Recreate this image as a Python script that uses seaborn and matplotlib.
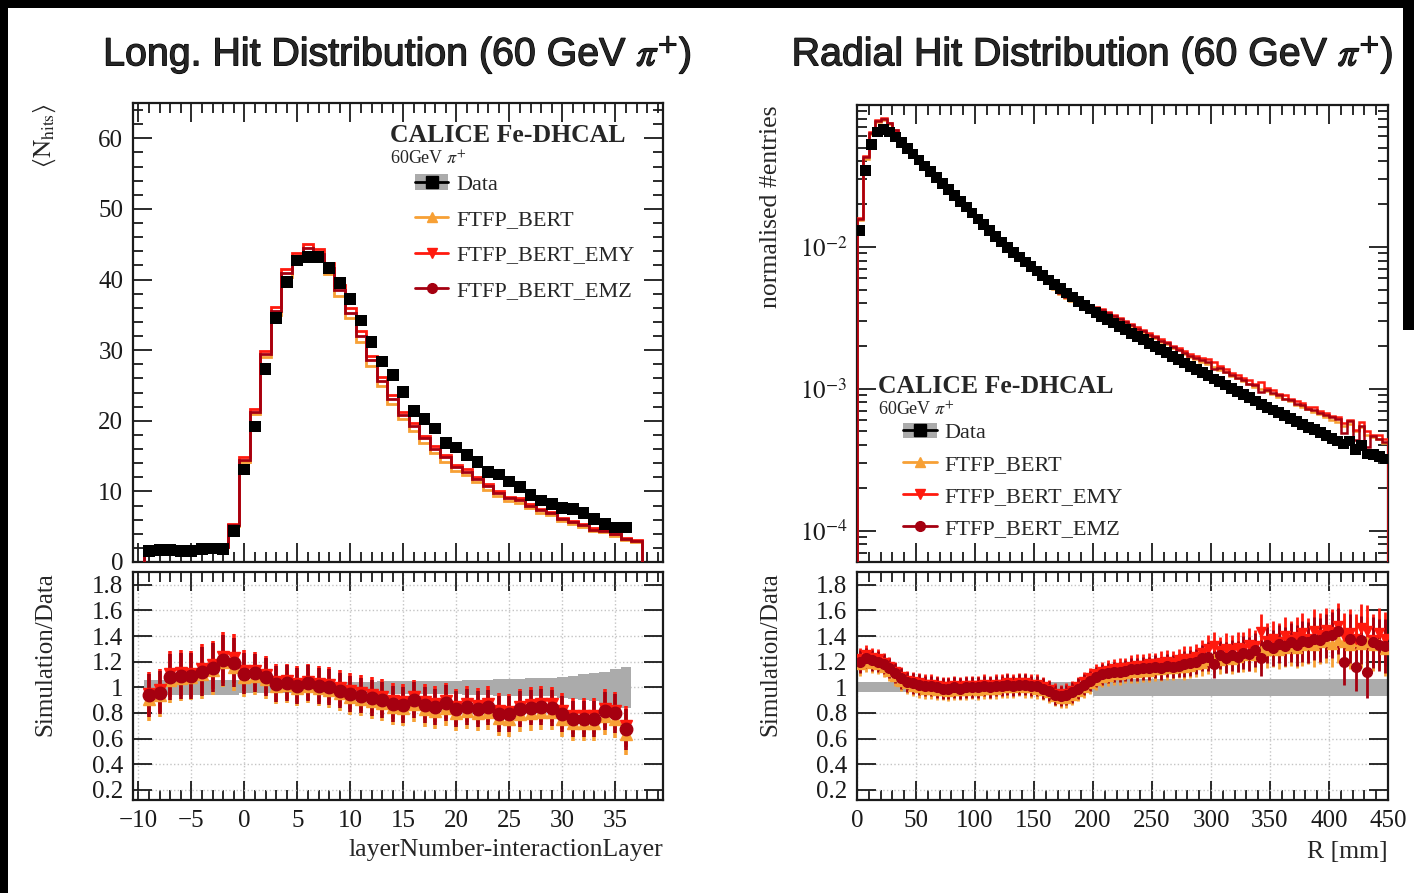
import numpy as np
import matplotlib
matplotlib.use("Agg")
import matplotlib.pyplot as plt
import matplotlib.patheffects as pe
import seaborn as sns
from matplotlib.patches import Rectangle, Patch
from matplotlib.lines import Line2D
from matplotlib.ticker import MultipleLocator, FixedLocator, LogLocator, NullFormatter, FuncFormatter

# ---------------------------------------------------------------- data
# longitudinal profile: mean number of hits per layer (relative to interaction layer)
layers = list(range(-9, 37))
hits_data = [1.6, 1.7, 1.7, 1.6, 1.6, 1.8, 1.9, 1.8, 4.4,
             13.1, 19.2, 27.3, 34.6, 39.7, 42.7, 43.2, 43.2, 41.6, 39.5,
             37.2, 34.2, 31.1, 28.4, 26.5, 24.1, 21.4, 20.3, 18.9, 16.9,
             16.2, 15.1, 14.2, 12.7, 12.4, 11.4, 10.6, 9.5, 8.7, 8.2,
             7.7, 7.5, 6.9, 6.1, 5.4, 4.9, 4.9]
# simulated profiles (one extra layer at the end, 37)
hits_bert = [1.45, 1.60, 1.80, 1.72, 1.73, 1.98, 2.15, 2.16, 5.1,
             14.2, 20.9, 29.0, 35.0, 40.3, 42.6, 43.8, 42.9, 40.8, 37.7,
             34.5, 31.2, 27.8, 24.9, 22.4, 20.2, 18.6, 16.9, 15.4, 14.2,
             12.9, 12.3, 11.3, 10.2, 9.4, 8.6, 8.4, 7.6, 7.0, 6.6,
             5.8, 5.4, 4.95, 4.4, 4.2, 3.7, 3.1, 2.9]
hits_emy = [1.52, 1.66, 1.88, 1.78, 1.77, 2.06, 2.23, 2.22, 5.4,
            14.8, 21.6, 29.9, 36.1, 41.5, 43.8, 45.1, 44.3, 42.3, 39.2,
            36.0, 32.7, 29.2, 26.2, 23.6, 21.3, 19.7, 17.9, 16.4, 15.1,
            13.7, 13.1, 12.1, 11.0, 10.1, 9.2, 9.0, 8.2, 7.55, 7.1,
            6.25, 5.8, 5.35, 4.75, 4.5, 4.0, 3.4, 3.1]
hits_emz = [1.50, 1.63, 1.84, 1.74, 1.74, 2.02, 2.19, 2.18, 5.24,
            14.5, 21.3, 29.5, 35.6, 40.9, 43.1, 44.5, 43.6, 41.6, 38.5,
            35.3, 32.0, 28.6, 25.6, 23.1, 20.8, 19.3, 17.5, 16.0, 14.8,
            13.4, 12.8, 11.8, 10.7, 9.8, 9.0, 8.8, 8.0, 7.35, 6.9,
            6.1, 5.65, 5.2, 4.6, 4.4, 3.9, 3.3, 3.0]
# uncertainty of the simulation/data ratio per layer
ratio_err_long = [0.17, 0.17, 0.18, 0.18, 0.18, 0.19, 0.19, 0.20, 0.19,
                  0.16, 0.15, 0.15, 0.14, 0.14, 0.14, 0.14, 0.14, 0.14, 0.14,
                  0.14, 0.14, 0.14, 0.14, 0.14, 0.14, 0.14, 0.14, 0.14, 0.14,
                  0.14, 0.14, 0.14, 0.14, 0.14, 0.14, 0.14, 0.14, 0.14, 0.14,
                  0.14, 0.14, 0.14, 0.14, 0.15, 0.15, 0.16]
# relative data uncertainty (grey band)
data_relerr_long = [0.06, 0.06, 0.06, 0.06, 0.06, 0.06, 0.06, 0.06, 0.06,
                    0.045, 0.045, 0.045, 0.045, 0.045, 0.045, 0.045, 0.045, 0.045, 0.045,
                    0.045, 0.045, 0.045, 0.05, 0.05, 0.05, 0.05, 0.05, 0.05, 0.05,
                    0.05, 0.06, 0.06, 0.06, 0.065, 0.065, 0.065, 0.07, 0.07, 0.07,
                    0.08, 0.09, 0.10, 0.11, 0.12, 0.14, 0.16]

# radial profile: normalised entries in 5 mm bins of R
radius_edges_mm = list(range(0, 455, 5))
radial_data = [0.0130, 0.0347, 0.0525, 0.0646, 0.0676, 0.0646, 0.0596, 0.0543, 0.0495, 0.0452,
               0.0410, 0.0372, 0.0339, 0.0308, 0.0280, 0.0254, 0.0231, 0.0210, 0.0191, 0.0173,
               0.0157, 0.0143, 0.0130, 0.0118, 0.0108, 0.00993, 0.00916, 0.00847, 0.00783, 0.00726,
               0.00675, 0.00627, 0.00583, 0.00543, 0.00507, 0.00473, 0.00443, 0.00414, 0.00388, 0.00365,
               0.00344, 0.00324, 0.00307, 0.00290, 0.00275, 0.00260, 0.00246, 0.00233, 0.00221, 0.00209,
               0.00199, 0.00188, 0.00179, 0.00169, 0.00161, 0.00152, 0.00144, 0.00137, 0.00130, 0.00124,
               0.00117, 0.00112, 0.00106, 0.00100, 0.000955, 0.000908, 0.000863, 0.000820, 0.000776, 0.000741,
               0.000708, 0.000676, 0.000646, 0.000617, 0.000586, 0.000560, 0.000535, 0.000513, 0.000490, 0.000468,
               0.000447, 0.000427, 0.000407, 0.000427, 0.000372, 0.000398, 0.000347, 0.000343, 0.000331, 0.000320]
radial_ratio_bert = [1.18, 1.20, 1.19, 1.18, 1.16, 1.13, 1.09, 1.05, 1.03, 1.01,
                     1.00, 0.99, 0.99, 0.98, 0.98, 0.97, 0.98, 0.98, 0.98, 0.99,
                     0.98, 0.99, 0.99, 0.99, 1.00, 1.00, 1.00, 1.01, 1.00, 1.00,
                     0.99, 0.98, 0.96, 0.93, 0.92, 0.92, 0.94, 0.97, 1.00, 1.03,
                     1.06, 1.08, 1.09, 1.10, 1.10, 1.11, 1.12, 1.12, 1.13, 1.13,
                     1.14, 1.14, 1.15, 1.15, 1.16, 1.16, 1.17, 1.18, 1.19, 1.21,
                     1.22, 1.21, 1.23, 1.22, 1.24, 1.25, 1.26, 1.25, 1.28, 1.29,
                     1.30, 1.29, 1.31, 1.32, 1.31, 1.33, 1.34, 1.33, 1.35, 1.36,
                     1.34, 1.37, 1.35, 1.33, 1.36, 1.34, 1.35, 1.33, 1.34, 1.30]
radial_ratio_emy = [1.22, 1.25, 1.23, 1.22, 1.19, 1.16, 1.12, 1.08, 1.05, 1.04,
                    1.03, 1.02, 1.02, 1.01, 1.00, 1.00, 1.01, 1.00, 1.01, 1.01,
                    1.01, 1.02, 1.01, 1.02, 1.02, 1.03, 1.02, 1.03, 1.03, 1.02,
                    1.02, 1.00, 0.98, 0.95, 0.94, 0.95, 0.97, 1.00, 1.04, 1.07,
                    1.10, 1.12, 1.13, 1.14, 1.15, 1.15, 1.16, 1.17, 1.17, 1.18,
                    1.18, 1.19, 1.20, 1.19, 1.21, 1.22, 1.22, 1.24, 1.27, 1.30,
                    1.32, 1.28, 1.30, 1.29, 1.31, 1.30, 1.33, 1.32, 1.43, 1.36,
                    1.38, 1.35, 1.40, 1.37, 1.39, 1.42, 1.38, 1.44, 1.41, 1.45,
                    1.43, 1.48, 1.40, 1.42, 1.38, 1.46, 1.44, 1.37, 1.42, 1.38]
radial_ratio_emz = [1.20, 1.23, 1.21, 1.20, 1.18, 1.15, 1.11, 1.07, 1.04, 1.03,
                    1.02, 1.01, 1.01, 1.00, 0.99, 0.99, 1.00, 0.99, 1.00, 1.00,
                    1.00, 1.01, 1.00, 1.01, 1.01, 1.02, 1.01, 1.02, 1.02, 1.01,
                    1.01, 0.99, 0.97, 0.94, 0.93, 0.94, 0.96, 0.99, 1.02, 1.05,
                    1.08, 1.10, 1.11, 1.12, 1.12, 1.13, 1.14, 1.14, 1.15, 1.15,
                    1.16, 1.15, 1.17, 1.16, 1.17, 1.18, 1.19, 1.20, 1.23, 1.24,
                    1.18, 1.25, 1.23, 1.25, 1.24, 1.27, 1.26, 1.29, 1.23, 1.33,
                    1.31, 1.34, 1.32, 1.35, 1.33, 1.36, 1.35, 1.38, 1.37, 1.40,
                    1.41, 1.44, 1.20, 1.38, 1.16, 1.37, 1.12, 1.35, 1.33, 1.32]
radial_ratio_err = [0.09, 0.08, 0.08, 0.08, 0.08, 0.08, 0.08, 0.08, 0.08, 0.08,
                    0.08, 0.08, 0.08, 0.08, 0.08, 0.08, 0.08, 0.08, 0.08, 0.08,
                    0.08, 0.08, 0.08, 0.08, 0.08, 0.08, 0.08, 0.08, 0.08, 0.08,
                    0.08, 0.08, 0.08, 0.08, 0.08, 0.08, 0.08, 0.08, 0.08, 0.08,
                    0.08, 0.08, 0.08, 0.08, 0.08, 0.08, 0.09, 0.09, 0.09, 0.09,
                    0.09, 0.09, 0.09, 0.09, 0.09, 0.10, 0.10, 0.10, 0.10, 0.11,
                    0.11, 0.11, 0.12, 0.12, 0.12, 0.13, 0.13, 0.13, 0.14, 0.14,
                    0.14, 0.15, 0.15, 0.15, 0.16, 0.16, 0.16, 0.17, 0.17, 0.17,
                    0.18, 0.18, 0.18, 0.19, 0.19, 0.19, 0.20, 0.20, 0.20, 0.21]
radial_data_relerr = [0.04, 0.04, 0.04, 0.04, 0.04, 0.04, 0.04, 0.04, 0.04, 0.04,
                      0.04, 0.04, 0.04, 0.04, 0.04, 0.04, 0.04, 0.04, 0.04, 0.04,
                      0.04, 0.04, 0.04, 0.04, 0.04, 0.04, 0.04, 0.04, 0.04, 0.04,
                      0.04, 0.04, 0.04, 0.04, 0.04, 0.04, 0.04, 0.04, 0.04, 0.04,
                      0.065, 0.065, 0.065, 0.065, 0.065, 0.065, 0.065, 0.065, 0.065, 0.065,
                      0.065, 0.065, 0.065, 0.065, 0.065, 0.065, 0.065, 0.065, 0.065, 0.065,
                      0.065, 0.065, 0.065, 0.065, 0.065, 0.065, 0.065, 0.065, 0.065, 0.065,
                      0.065, 0.065, 0.065, 0.065, 0.065, 0.065, 0.065, 0.065, 0.065, 0.065,
                      0.065, 0.065, 0.065, 0.065, 0.065, 0.065, 0.065, 0.065, 0.065, 0.065]

model_names = ["FTFP_BERT", "FTFP_BERT_EMY", "FTFP_BERT_EMZ"]
model_colors = ["#f7a035", "#ff1a0e", "#a50010"]
model_markers = ["^", "v", "o"]
band_color = "#ababab"

# ---------------------------------------------------------------- style
sns.set_theme(style="white")
plt.rcParams.update({
    "font.family": ["Liberation Serif", "DejaVu Serif"],
    "mathtext.fontset": "stix",
    "axes.edgecolor": "#1a1a1a",
    "axes.linewidth": 1.6,
    "xtick.color": "#1a1a1a",
    "ytick.color": "#1a1a1a",
    "axes.unicode_minus": True,
})

W, H = 1414, 893
fig = plt.figure(figsize=(W / 100, H / 100), dpi=100)
fig.patch.set_facecolor("white")


def rect(x0, y0, x1, y1):
    return [x0 / W, 1 - y1 / H, (x1 - x0) / W, (y1 - y0) / H]


ax_lt = fig.add_axes(rect(133, 103, 663, 562))
ax_lb = fig.add_axes(rect(133, 572, 663, 800))
ax_rt = fig.add_axes(rect(857, 105, 1388, 562))
ax_rb = fig.add_axes(rect(857, 572, 1388, 800))


def root_ticks(ax, labelsize):
    ax.tick_params(which="both", direction="in", top=True, right=True,
                   bottom=True, left=True, width=1.3)
    ax.tick_params(which="major", length=14, labelsize=labelsize, pad=7)
    ax.tick_params(which="minor", length=7)


# ---------------------------------------------------------------- long. profile
layer_arr = np.array(layers)
data_arr = np.array(hits_data)
edges_data = np.arange(layer_arr[0] - 0.5, layer_arr[-1] + 1.0, 1.0)
edges_sim = np.arange(layer_arr[0] - 0.5, layer_arr[-1] + 2.0, 1.0)
sims_long = [np.array(hits_bert), np.array(hits_emy), np.array(hits_emz)]

for vals, col in zip(sims_long, model_colors):
    ax_lt.stairs(vals, edges_sim, color=col, lw=2.0, zorder=3)
sns.scatterplot(x=layer_arr, y=data_arr, marker="s", s=72, color="black",
                edgecolor="none", ax=ax_lt, legend=False, zorder=5)

ax_lt.set_xlim(-10.5, 39.5)
ax_lt.set_ylim(0, 65)
ax_lt.xaxis.set_major_locator(MultipleLocator(5))
ax_lt.xaxis.set_minor_locator(MultipleLocator(1))
ax_lt.yaxis.set_major_locator(MultipleLocator(10))
ax_lt.yaxis.set_minor_locator(MultipleLocator(2))
root_ticks(ax_lt, 18)
ax_lt.tick_params(labelbottom=False)
ax_lt.set_xlabel("")
ax_lt.set_ylabel("")

# ratio panel
relerr = np.array(data_relerr_long)
ax_lb.stairs(1 + relerr, edges_data, baseline=1 - relerr, fill=True,
             color=band_color, lw=0, zorder=2)
for vals, col, mk in zip(sims_long, model_colors, model_markers):
    ratio = vals[:len(data_arr)] / data_arr
    ax_lb.errorbar(layer_arr, ratio, yerr=ratio_err_long, fmt=mk, color=col,
                   ms=9, elinewidth=2.6, capsize=0, zorder=4)
ax_lb.set_xlim(-10.5, 39.5)
ax_lb.set_ylim(0.12, 1.9)
ax_lb.xaxis.set_major_locator(MultipleLocator(5))
ax_lb.xaxis.set_minor_locator(MultipleLocator(1))
ax_lb.yaxis.set_major_locator(FixedLocator([0.2, 0.4, 0.6, 0.8, 1.0, 1.2, 1.4, 1.6, 1.8]))
ax_lb.yaxis.set_major_formatter(FuncFormatter(lambda v, p: f"{v:g}"))
root_ticks(ax_lb, 18)
ax_lb.grid(True, which="major", color="#c4c4c4", ls=":", lw=1.0)
ax_lb.set_axisbelow(True)

# ---------------------------------------------------------------- radial profile
r_edges = np.array(radius_edges_mm, dtype=float)
r_centres = 0.5 * (r_edges[:-1] + r_edges[1:])
rdata = np.array(radial_data)
ratios_rad = [np.array(radial_ratio_bert), np.array(radial_ratio_emy), np.array(radial_ratio_emz)]

for rat, col in zip(ratios_rad, model_colors):
    ax_rt.stairs(rdata * rat, r_edges, color=col, lw=1.8, zorder=3)
sns.scatterplot(x=r_centres, y=rdata, marker="s", s=60, color="black",
                edgecolor="none", ax=ax_rt, legend=False, zorder=5)
ax_rt.set_yscale("log")
ax_rt.set_xlim(0, 450)
ax_rt.set_ylim(6e-5, 0.1)
ax_rt.xaxis.set_major_locator(MultipleLocator(50))
ax_rt.xaxis.set_minor_locator(MultipleLocator(10))
ax_rt.yaxis.set_major_locator(FixedLocator([1e-4, 1e-3, 1e-2]))
ax_rt.yaxis.set_major_formatter(
    FuncFormatter(lambda v, p: r"$10^{%d}$" % int(round(np.log10(v)))))
ax_rt.yaxis.set_minor_locator(LogLocator(base=10, subs=np.arange(2, 10)))
ax_rt.yaxis.set_minor_formatter(NullFormatter())
root_ticks(ax_rt, 18)
ax_rt.tick_params(labelbottom=False)
ax_rt.set_xlabel("")
ax_rt.set_ylabel("")

rrel = np.array(radial_data_relerr)
ax_rb.stairs(1 + rrel, r_edges, baseline=1 - rrel, fill=True,
             color=band_color, lw=0, zorder=2)
for rat, col, mk in zip(ratios_rad, model_colors, model_markers):
    ax_rb.errorbar(r_centres, rat, yerr=radial_ratio_err, fmt=mk, color=col,
                   ms=7, elinewidth=2.0, capsize=0, zorder=4)
ax_rb.set_xlim(0, 450)
ax_rb.set_ylim(0.12, 1.9)
ax_rb.xaxis.set_major_locator(MultipleLocator(50))
ax_rb.xaxis.set_minor_locator(MultipleLocator(10))
ax_rb.yaxis.set_major_locator(FixedLocator([0.2, 0.4, 0.6, 0.8, 1.0, 1.2, 1.4, 1.6, 1.8]))
ax_rb.yaxis.set_major_formatter(FuncFormatter(lambda v, p: f"{v:g}"))
root_ticks(ax_rb, 18)
ax_rb.grid(True, which="major", color="#c4c4c4", ls=":", lw=1.0)
ax_rb.set_axisbelow(True)

# ---------------------------------------------------------------- legends
def legend_handles():
    hs = [(Patch(facecolor=band_color, edgecolor="none"),
           Line2D([], [], color="black", marker="s", ms=8, lw=2))]
    for col, mk in zip(model_colors, model_markers):
        hs.append(Line2D([], [], color=col, marker=mk, ms=7, lw=2))
    return hs


labels = ["Data"] + model_names
for ax, xt, yt, ylg, dy in [(ax_lt, 0.485, 0.930, 0.845, 0.67),
                             (ax_rt, 0.040, 0.385, 0.305, 0.51)]:
    ax.text(xt, yt, "CALICE Fe-DHCAL", transform=ax.transAxes,
            fontsize=18.5, fontweight="bold", ha="left", va="center")
    ax.text(xt, yt - 0.052, r"60GeV $\pi^{+}$", transform=ax.transAxes,
            fontsize=13, ha="left", va="center")
    lg = ax.legend(legend_handles(), labels, loc="upper left",
                   bbox_to_anchor=(xt + 0.047, ylg), frameon=False,
                   fontsize=16, handlelength=1.5, handletextpad=0.35,
                   labelspacing=dy, borderpad=0, borderaxespad=0)
    lg.set_zorder(10)

# ---------------------------------------------------------------- titles and axis titles
title_fx = [pe.withStroke(linewidth=0.9, foreground="black")]
fig.text(397 / W, 1 - 55 / H, r"Long. Hit Distribution (60 GeV $\pi^{+}$)",
         ha="center", va="center", fontsize=28.3, family=["Liberation Sans", "DejaVu Sans"],
         path_effects=title_fx)
fig.text(1092 / W, 1 - 55 / H, r"Radial Hit Distribution (60 GeV $\pi^{+}$)",
         ha="center", va="center", fontsize=28.3, family=["Liberation Sans", "DejaVu Sans"],
         path_effects=title_fx)

fig.text(45 / W, 1 - 103 / H, r"$\langle \mathrm{N}_{\mathrm{hits}}\rangle$", rotation=90,
         ha="center", va="top", fontsize=18)
fig.text(45 / W, 1 - 572 / H, "Simulation/Data", rotation=90,
         ha="center", va="top", fontsize=18)
fig.text(771 / W, 1 - 105 / H, "normalised #entries", rotation=90,
         ha="center", va="top", fontsize=18.5)
fig.text(770 / W, 1 - 572 / H, "Simulation/Data", rotation=90,
         ha="center", va="top", fontsize=18)
fig.text(663 / W, 1 - 850 / H, "layerNumber-interactionLayer",
         ha="right", va="center", fontsize=18.5)
fig.text(1388 / W, 1 - 852 / H, "R [mm]", ha="right", va="center", fontsize=18.5)

# dark frame strips along the page edges
for x0, y0, x1, y1 in [(0, 0, W, 8), (0, 0, 8, H), (1403, 0, W, 330)]:
    fig.patches.append(Rectangle((x0 / W, 1 - y1 / H), (x1 - x0) / W, (y1 - y0) / H,
                                 transform=fig.transFigure, facecolor="black",
                                 edgecolor="none", zorder=20))

fig.savefig("out.png", dpi=100, facecolor="white")
